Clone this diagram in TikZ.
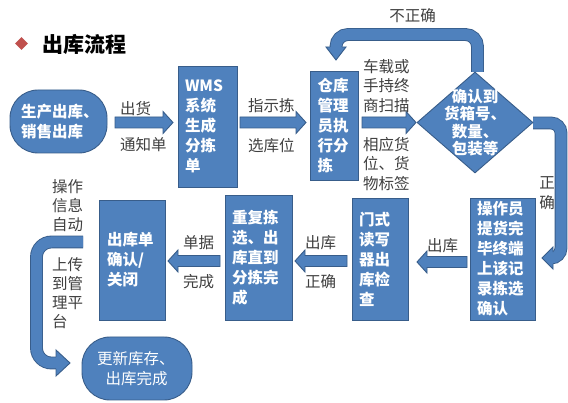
\documentclass[tikz,border=0pt]{standalone}
\usepackage{fontspec}
\setmainfont{Noto Sans CJK SC}
\usetikzlibrary{calc,shapes.geometric}
\definecolor{mblue}{RGB}{79,129,189}
\definecolor{mborder}{RGB}{56,93,138}
\definecolor{mred}{RGB}{192,80,77}
\definecolor{lblc}{RGB}{64,64,64}
\tikzset{
  box/.style={draw=mborder, fill=mblue, line width=0.9pt, text=white,
    font=\bfseries\fontsize{15.5}{20}\selectfont, align=left, inner xsep=7pt, inner ysep=0pt},
  pill/.style={box, rounded corners=28pt},
  lbl/.style={text=lblc, font=\fontsize{15.5}{19.5}\selectfont, align=left, inner sep=0pt, anchor=west},
  barrow/.style={draw=mborder, fill=mblue, line width=0.9pt, line join=miter},
  bandouter/.style={draw=mborder, line width=12.8pt},
  bandinner/.style={draw=mblue, line width=11pt},
}
% horizontal block arrow from #1 to #2 (y of #1)
\newcommand\blockarrow[2]{%
  \draw[barrow] let \p1=(#1), \p2=(#2), \n1={ifthenelse(\x2>\x1,1,-1)} in
  (\x1,\y1+5.5pt) -- ({\x2-\n1*10pt},\y1+5.5pt) -- ({\x2-\n1*10pt},\y1+11pt) -- (\x2,\y1)
  -- ({\x2-\n1*10pt},\y1-11pt) -- ({\x2-\n1*10pt},\y1-5.5pt) -- (\x1,\y1-5.5pt) -- cycle;}
\begin{document}
\begin{tikzpicture}[x=1pt,y=-1pt]
\useasboundingbox (0,0) rectangle (568,403);
\fill[white] (0,0) rectangle (568,403);

% title
\node[diamond, fill=mred, minimum size=13pt, inner sep=0] (bul) at (21.5,43.5) {};
\node[anchor=west, font=\bfseries\fontsize{21}{21}\selectfont, inner sep=0] (T) at (42,44) {出库流程};

% curved bands (drawn first)
\coordinate (u1) at (477.5,34.5);
\coordinate (u2) at (336,34.5);
\coordinate (u3) at (336,49);
\coordinate (u0) at (477.5,72);
\draw[bandouter, rounded corners=12pt] (u0) -- (u1) -- (u2) -- (u3);
\draw[bandinner, rounded corners=12pt] (u0) -- (u1) -- (u2) -- (u3);

\coordinate (r0) at (533,123);
\coordinate (r1) at (561,123);
\coordinate (r2) at (561,258);
\coordinate (r3) at (550,258);
\draw[bandouter, rounded corners=10pt] (r0) -- (r1) -- (r2) -- (r3);
\draw[bandinner, rounded corners=10pt] (r0) -- (r1) -- (r2) -- (r3);

\coordinate (l0) at (83,242);
\coordinate (l1) at (36.5,242);
\coordinate (l2) at (36.5,363);
\coordinate (l3) at (58,363);
\draw[bandouter, rounded corners=15pt] (l0) -- (l1) -- (l2) -- (l3);
\draw[bandinner, rounded corners=15pt] (l0) -- (l1) -- (l2) -- (l3);

% heads of the curved bands
\fill[mblue] (326,47) -- (336,60) -- (346,47) -- cycle;
\draw[barrow, fill=none] (330.05,47) -- (326,47) -- (336,60) -- (346,47) -- (341.95,47);
\fill[mblue] (553,247) -- (542,258) -- (553,269) -- cycle;
\draw[barrow, fill=none] (553,252.05) -- (553,247) -- (542,258) -- (553,269) -- (553,263.95);
\fill[mblue] (56,350) -- (70,363) -- (56,376) -- cycle;
\draw[barrow, fill=none] (56,357.05) -- (56,350) -- (70,363) -- (56,376) -- (56,368.95);

% nodes
\node[pill, text width=75pt, inner xsep=11pt, minimum height=63pt] (A) at (58.5,121.5) {生产出库、\\销售出库};
\node[box, text width=45pt, minimum height=121pt] (W) at (207.5,126.5) {WMS\\系统\\生成\\分拣\\单};
\node[box, text width=33pt, inner xsep=7.5pt, minimum height=109pt] (C) at (334,125.5) {仓库\\管理\\员执\\行分\\拣};
\node[diamond, draw=mborder, fill=mblue, line width=0.9pt, minimum width=116pt, minimum height=101pt, inner sep=0] (D) at (475,122.5) {};
\node[text=white, font=\bfseries\fontsize{15.5}{17.5}\selectfont, align=center, inner sep=0] (Dt) at (D.center) {确认到\\货箱号、\\数量、\\包装等};
\node[box, text width=51pt, minimum height=122pt] (E) at (502.5,259) {操作员\\提货完\\毕终端\\上该记\\录拣选\\确认};
\node[box, text width=42pt, minimum height=122pt] (F) at (380,259) {门式\\读写\\器出\\库检\\查};
\node[box, text width=53pt, minimum height=125pt] (G) at (258.5,257.5) {重复拣\\选、出\\库直到\\分拣完\\成};
\node[box, text width=50pt, inner xsep=8pt, minimum height=120pt] (H) at (132,260) {出库单\\确认/\\关闭};
\node[pill, font=\fontsize{15.5}{19.5}\selectfont, align=left, text width=80pt, inner xsep=15pt, minimum height=63pt] (I) at (137,368.5) {更新库存、\\\hspace*{8.5pt}出库完成};

% straight block arrows
\coordinate (a1s) at (115,122.5); \coordinate (a1e) at (173,122.5);
\coordinate (a2s) at (240,122.5); \coordinate (a2e) at (306,122.5);
\coordinate (a3s) at (362,122.5); \coordinate (a3e) at (416,122.5);
\coordinate (a4s) at (467,262); \coordinate (a4e) at (417,262);
\coordinate (a5s) at (347,261); \coordinate (a5e) at (295,261);
\coordinate (a6s) at (220,261); \coordinate (a6e) at (168,261);
\blockarrow{a1s}{a1e}
\blockarrow{a2s}{a2e}
\blockarrow{a3s}{a3e}
\blockarrow{a4s}{a4e}
\blockarrow{a5s}{a5e}
\blockarrow{a6s}{a6e}

% labels
\node[lbl] (t1) at (120,109) {出货};
\node[lbl] (t2) at (120,145) {通知单};
\node[lbl] (t3) at (248,106) {指示拣};
\node[lbl] (t4) at (248,146) {选库位};
\node[lbl] (t5) at (363,86) {车载或\\手持终\\商扫描};
\node[lbl] (t6) at (363,164) {相应货\\位、货\\物标签};
\node[lbl, anchor=center] (t7) at (412.5,16) {不正确};
\node[lbl, anchor=center, align=center, font=\fontsize{15.5}{20}\selectfont] (t8) at (547,193) {正\\确};
\node[lbl] (t9) at (427,246) {出库};
\node[lbl] (t10) at (305,243) {出库};
\node[lbl] (t11) at (305,282) {正确};
\node[lbl] (t12) at (183,243) {单据};
\node[lbl] (t13) at (183,282) {完成};
\node[lbl, font=\fontsize{15.5}{19}\selectfont] (t14) at (52,206) {操作\\信息\\自动};
\node[lbl, font=\fontsize{15.5}{19}\selectfont] (t15) at (52,293.5) {上传\\到管\\理平\\台};
\end{tikzpicture}
\end{document}
